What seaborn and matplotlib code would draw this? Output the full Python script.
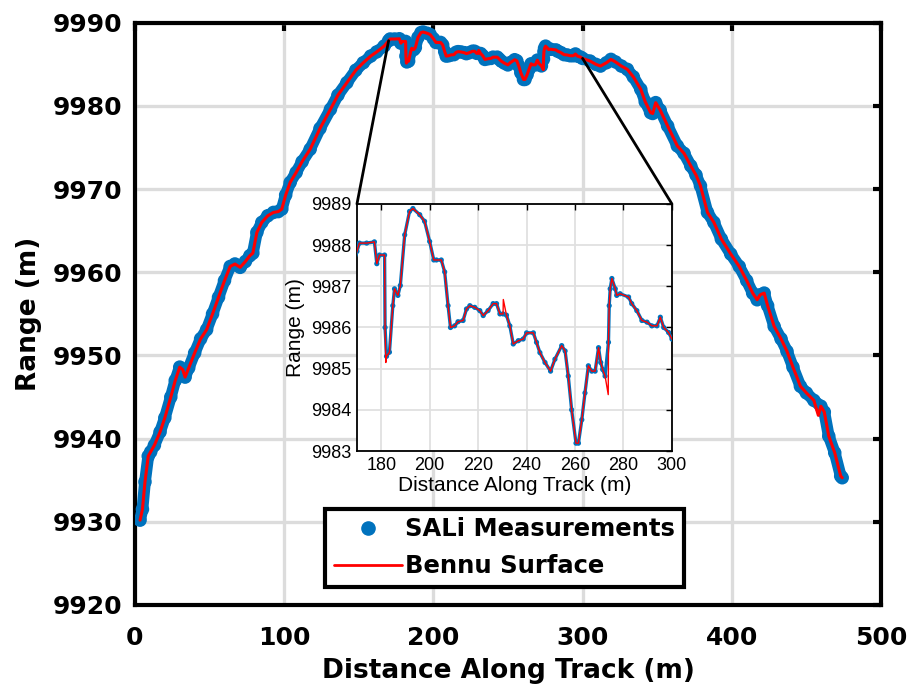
import numpy as np
import pandas as pd
import matplotlib
matplotlib.use("Agg")
import matplotlib.pyplot as plt
from matplotlib.lines import Line2D
from matplotlib.patches import ConnectionPatch
import seaborn as sns

# Along-track distance (m) and measured range (m), split into three stretches
track_left = [3.4, 5, 6.7, 8.9, 10.5, 13, 16.8, 20, 24, 27, 30, 32, 33.6, 36, 40,
              44, 48, 52, 56, 60, 63.8, 67, 70.5, 74, 77, 79, 81.7, 85, 89, 92.8,
              96, 98.4, 101, 104, 108, 112, 117.4, 124, 131, 136, 142, 148, 153,
              158, 162, 167]
range_left = [9930.2, 9931.5, 9934.8, 9937.9, 9938.4, 9939.2, 9940.8, 9942.5, 9945,
              9947, 9948.6, 9948.3, 9947.4, 9948.5, 9950.3, 9952, 9953.1, 9955,
              9957, 9959, 9960.7, 9961, 9960.6, 9961.3, 9962, 9962.3, 9964.8, 9966,
              9966.8, 9967.2, 9967.3, 9967.6, 9969.3, 9970.8, 9972, 9973.3, 9974.8,
              9977.3, 9979.6, 9981.3, 9982.8, 9984.3, 9985.2, 9986, 9986.5, 9987.2]

track_mid = [170, 171, 174, 177.2, 178.2, 179.3, 181.4, 181.6, 182.2, 183.4, 184.8,
             185.5, 186.9, 187.9, 189.7, 191.7, 193.1, 195.9, 197.9, 200, 201.7,
             202.8, 204.8, 206.2, 207.6, 208.6, 210.3, 211.7, 213.8, 215.2, 216.6,
             218.6, 220.7, 222.1, 224.1, 226.2, 227.6, 229, 230.3, 231.7, 233.1,
             234.5, 236.6, 238.6, 240, 242.8, 244.1, 245.5, 247.6, 249.9, 251.7,
             254.5, 255.9, 257.2, 258.6, 260.4, 261.4, 262.8, 264.1, 265.5, 266.9,
             268.3, 269.7, 270.6, 271.4, 272.4, 273.8, 274.1, 274.5, 275.2, 276.6,
             277.2, 278.6, 282.1, 283.4, 285.5, 287.6, 289.7, 291.7, 293.8, 295.2,
             296.6, 298.6, 300]
range_mid = [9987.85, 9988.05, 9988.05, 9988.08, 9987.55, 9987.76, 9987.76, 9986.0,
             9985.3, 9985.4, 9986.53, 9986.94, 9986.78, 9987.02, 9988.25, 9988.82,
             9988.89, 9988.74, 9988.58, 9988.09, 9987.64, 9987.64, 9987.64, 9987.35,
             9986.53, 9986.0, 9986.04, 9986.14, 9986.17, 9986.45, 9986.53, 9986.49,
             9986.41, 9986.29, 9986.41, 9986.58, 9986.58, 9986.33, 9986.33, 9986.3,
             9986.04, 9985.6, 9985.68, 9985.72, 9985.87, 9985.87, 9985.64, 9985.39,
             9985.15, 9984.94, 9985.23, 9985.56, 9985.43, 9984.82, 9984.0, 9983.19,
             9983.19, 9983.76, 9984.41, 9985.07, 9984.94, 9984.94, 9985.51, 9985.15,
             9984.98, 9984.82, 9985.64, 9986.53, 9986.94, 9987.19, 9986.94, 9986.78,
             9986.82, 9986.74, 9986.58, 9986.41, 9986.17, 9986.13, 9986.04, 9986.04,
             9986.25, 9986.0, 9985.88, 9985.72]

track_right = [305, 309, 312, 316, 319, 322, 326, 330, 334, 339, 342, 345.6, 347,
               349, 352, 357, 363.5, 368, 372.5, 376, 379, 383.7, 388, 393, 399.3,
               405, 410, 414, 417, 419, 421.7, 424, 428.4, 433, 437, 441, 446, 450,
               455, 459.7, 462, 465, 469, 473, 474]
range_right = [9985.4, 9985, 9984.8, 9985.2, 9985.6, 9985.3, 9984.8, 9984.4, 9983.5,
               9982, 9980.5, 9979.2, 9979.1, 9980.4, 9979.5, 9977.6, 9975.2, 9974.3,
               9972.8, 9971.7, 9970.4, 9967.2, 9966, 9964, 9962.2, 9960.7, 9959,
               9957.5, 9956.7, 9957.3, 9957.5, 9956, 9953.5, 9952, 9950.5, 9948.6,
               9946.3, 9945.5, 9944.6, 9943.9, 9943.2, 9940.3, 9938.3, 9935.5, 9935.3]

# Points where the surface model departs from the measurements
spike_track = [181.9, 230.4, 273.7, 458]
spike_range = [9985.15, 9986.68, 9984.37, 9942.8]

# Zoom window shown in the inset
zoom_x = (170, 300)
zoom_y = (9983, 9989)

BLUE = "#0072BD"
RED = "#FF0000"
GRID = "#DCDCDC"

sns.set_theme(style="white")
plt.rcParams["font.family"] = ["DejaVu Sans"]
plt.rcParams.update({"text.color": "black", "axes.labelcolor": "black",
                     "xtick.color": "black", "ytick.color": "black"})

meas = pd.DataFrame({"track": track_left + track_mid + track_right,
                     "range": range_left + range_mid + range_right})
surf = (pd.concat([meas, pd.DataFrame({"track": spike_track, "range": spike_range})])
        .sort_values("track", kind="stable")
        .reset_index(drop=True))

fig = plt.figure(figsize=(9.12, 6.91), dpi=100)
ax = fig.add_axes([0.148, 0.1245, 0.818, 0.8425])

# Main profile: thick measurement band with the surface model on top
sns.lineplot(data=meas, x="track", y="range", sort=False, estimator=None,
             color=BLUE, linewidth=8.5, solid_joinstyle="round",
             solid_capstyle="round", ax=ax, zorder=3)
sns.scatterplot(data=meas, x="track", y="range", color=BLUE, s=95,
                edgecolor="none", ax=ax, zorder=3)
sns.lineplot(data=surf, x="track", y="range", sort=False, estimator=None,
             color=RED, linewidth=2.2, ax=ax, zorder=4)

ax.set_xlim(0, 500)
ax.set_ylim(9920, 9990)
xt = np.arange(0, 501, 100)
yt = np.arange(9920, 9991, 10)
ax.set_xticks(xt, labels=[str(v) for v in xt], fontweight="bold", fontsize=18)
ax.set_yticks(yt, labels=[str(v) for v in yt], fontweight="bold", fontsize=18)
ax.tick_params(axis="both", direction="in", length=6, width=3, color="black",
               labelcolor="black", top=True, right=True)
ax.tick_params(axis="x", pad=15)
ax.tick_params(axis="y", pad=9)
ax.grid(True, color=GRID, linewidth=2.4)
ax.set_axisbelow(True)
for sp in ax.spines.values():
    sp.set_linewidth(3)
    sp.set_color("black")
ax.set_xlabel("Distance Along Track (m)", fontsize=19, fontweight="bold", labelpad=6)
ax.set_ylabel("Range (m)", fontsize=19, fontweight="bold", labelpad=8)

handles = [Line2D([], [], ls="none", marker="o", ms=9.5, color=BLUE,
                  label="SALi Measurements"),
           Line2D([], [], color=RED, lw=2, label="Bennu Surface")]
leg = ax.legend(handles=handles, loc="lower left", bbox_to_anchor=(0.255, 0.031),
                prop={"weight": "bold", "size": 17.5}, frameon=True, fancybox=False,
                edgecolor="black", framealpha=1, handlelength=2.8,
                handletextpad=0.15, borderpad=0.35, labelspacing=0.55,
                borderaxespad=0)
leg.get_frame().set_linewidth(3)
leg.set_zorder(10)
for t in leg.get_texts():
    t.set_color("black")

# Inset with the zoomed-in stretch
axin = fig.add_axes([0.3914, 0.3473, 0.3454, 0.3575])
axin.set_facecolor("white")
zoom = meas[(meas.track >= zoom_x[0] - 5) & (meas.track <= zoom_x[1] + 5)]
zoom_s = surf[(surf.track >= zoom_x[0] - 5) & (surf.track <= zoom_x[1] + 5)]
sns.lineplot(data=zoom, x="track", y="range", sort=False, estimator=None,
             color=BLUE, linewidth=2.4, ax=axin, zorder=3)
sns.scatterplot(data=zoom, x="track", y="range", color=BLUE, s=14,
                edgecolor="none", ax=axin, zorder=3)
sns.lineplot(data=zoom_s, x="track", y="range", sort=False, estimator=None,
             color=RED, linewidth=1.0, ax=axin, zorder=4)
axin.set_xlim(*zoom_x)
axin.set_ylim(*zoom_y)
ixt = np.arange(180, 301, 20)
iyt = np.arange(9983, 9990, 1)
axin.set_xticks(ixt, labels=[str(v) for v in ixt], fontsize=13, family="Liberation Sans")
axin.set_yticks(iyt, labels=[str(v) for v in iyt], fontsize=13, family="Liberation Sans")
axin.tick_params(axis="both", direction="in", length=4, width=1, top=True,
                 right=True, pad=4, color="black", labelcolor="black")
axin.grid(True, color="#E0E0E0", linewidth=1.3)
axin.set_axisbelow(True)
for sp in axin.spines.values():
    sp.set_linewidth(1.3)
    sp.set_color("black")
axin.set_xlabel("Distance Along Track (m)", fontsize=15, family="Liberation Sans", labelpad=2)
axin.set_ylabel("Range (m)", fontsize=15, family="Liberation Sans", labelpad=4)

# Lines tying the zoom window on the main profile to the inset corners
track_all = meas.track.to_numpy()
range_all = meas.range.to_numpy()
for xv, corner in ((zoom_x[0], (0, 1)), (zoom_x[1], (1, 1))):
    yv = np.interp(xv, track_all, range_all)
    con = ConnectionPatch(xyA=(xv, yv), coordsA=ax.transData, xyB=corner,
                          coordsB=axin.transAxes, color="black", lw=2)
    fig.add_artist(con)

fig.savefig("out.png", dpi=100)
